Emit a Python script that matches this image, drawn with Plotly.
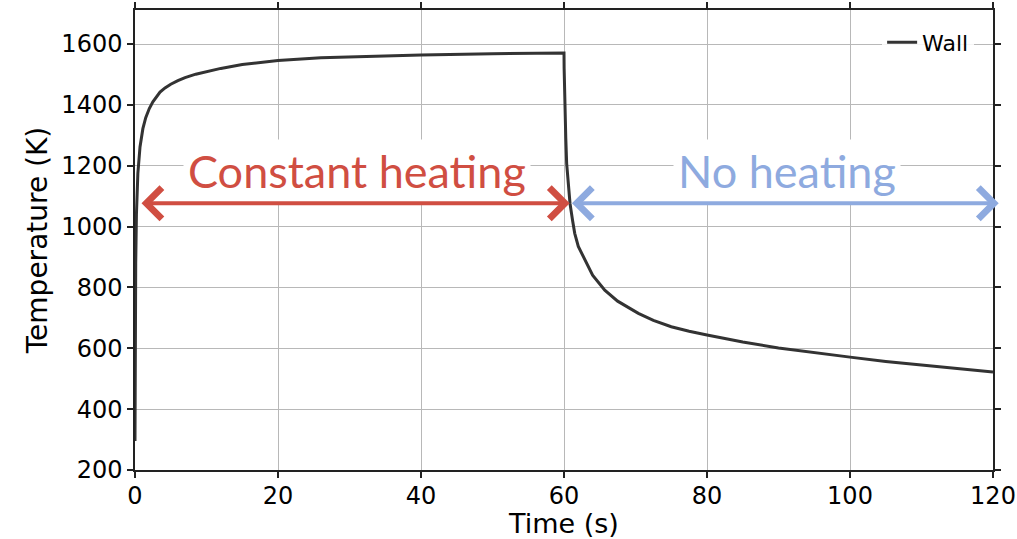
import plotly.graph_objects as go

# Heating phase (Time s, Temperature K)
t_heat = [0, 0.01, 0.02, 0.05, 0.1, 0.2, 0.4, 0.7, 1.1, 1.5, 2.0, 2.5, 3.0, 3.5, 4.2, 5, 6, 7, 8.5, 10, 12, 15, 20, 26, 30, 40, 50, 60]
T_heat = [295, 450, 600, 720, 880, 1040, 1175, 1262, 1322, 1358, 1388, 1410, 1428, 1442, 1456, 1468, 1480, 1490, 1501, 1510, 1520, 1533, 1546, 1555, 1558, 1564, 1568, 1571]
# Cooling phase
t_cool = [60.02, 60.06, 60.14, 60.25, 60.37, 60.6, 60.84, 61.2, 61.5, 62.0, 62.9, 64.0, 65.7, 67.5, 70.4, 72.5, 75, 77.5, 80, 85, 90, 95, 100, 105, 110, 115, 120]
T_cool = [1520, 1460, 1394, 1290, 1208, 1130, 1076, 1020, 978, 935, 890, 840, 791, 755, 715, 692, 671, 656, 644, 621, 601, 585, 571, 557, 545, 533, 522]

time = t_heat + t_cool
temp = T_heat + T_cool

x_ticks = [0, 20, 40, 60, 80, 100, 120]
y_ticks = [200, 400, 600, 800, 1000, 1200, 1400, 1600]

# Annotation positions (data units)
arrow_y = 1077
heat_span = (0.7, 60.8)
cool_span = (60.9, 120.8)
label_y = 1183
heat_label_x = 31.0
cool_label_x = 91.2

RED = "#d04e42"
BLUE = "#8eaadf"

fig = go.Figure()
fig.add_trace(go.Scatter(x=time, y=temp, mode="lines", name="Wall",
                         line=dict(color="#333333", width=3)))

# labels first (white boxes), arrows drawn on top
fig.add_annotation(x=heat_label_x, y=label_y, text="Constant heating", showarrow=False,
                   font=dict(family="Lato", size=45, color=RED),
                   bgcolor="white", borderpad=4)
fig.add_annotation(x=cool_label_x, y=label_y, text="No heating", showarrow=False,
                   font=dict(family="Lato", size=45, color=BLUE),
                   bgcolor="white", borderpad=4)

for (x0, x1), col in [(heat_span, RED), (cool_span, BLUE)]:
    fig.add_annotation(x=x1, y=arrow_y, ax=x0, ay=arrow_y, xref="x", yref="y",
                       axref="x", ayref="y", text="", showarrow=True,
                       arrowside="end+start", arrowhead=4, startarrowhead=4,
                       arrowsize=1.5, startarrowsize=1.5, arrowwidth=4,
                       arrowcolor=col, standoff=0, startstandoff=0)

axis_common = dict(showline=True, linecolor="#222222", linewidth=1.5, mirror="ticks",
                   ticks="outside", ticklen=6, tickwidth=1.5, tickcolor="#222222",
                   showgrid=True, gridcolor="#b8b8b8", gridwidth=1, zeroline=False,
                   automargin=False,
                   tickfont=dict(family="DejaVu Sans", size=24, color="black"))

fig.update_xaxes(range=[0, 120], tickvals=x_ticks, ticklabelstandoff=-3,
                 title=dict(text="Time (s)", font=dict(family="DejaVu Sans", size=27, color="black"), standoff=11),
                 **axis_common)
fig.update_yaxes(range=[200, 1712], tickvals=y_ticks,
                 title=dict(text="Temperature (K)", font=dict(family="DejaVu Sans", size=28, color="black"), standoff=6),
                 **axis_common)

fig.update_layout(
    width=1017, height=539,
    margin=dict(l=135, r=24, t=10, b=69),
    plot_bgcolor="white", paper_bgcolor="white",
    showlegend=True,
    legend=dict(x=0.978, y=0.975, xanchor="right", yanchor="top",
                bgcolor="rgba(255,255,255,0.85)", borderwidth=0,
                font=dict(family="DejaVu Sans", size=22, color="black")),
)

fig.write_html("out.html")
